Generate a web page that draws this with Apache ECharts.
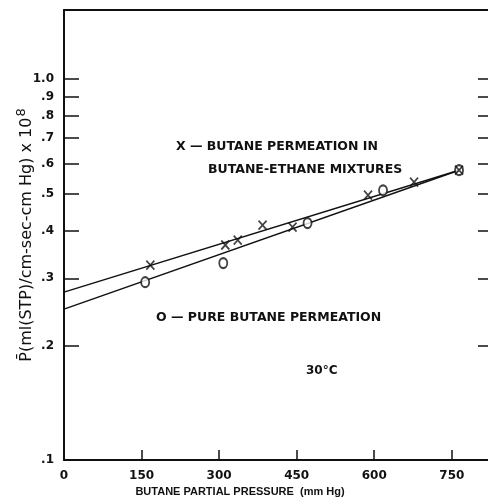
<!DOCTYPE html>
<html>
<head>
<meta charset="utf-8">
<script src="https://cdn.jsdelivr.net/npm/echarts@6/dist/echarts.min.js"></script>
<style>
  html, body { margin: 0; padding: 0; background: #fff; }
  #chart { width: 488px; height: 500px; }
</style>
</head>
<body>
<div id="chart"></div>
<script>
// butane partial pressure (mm Hg) and permeability (x 1e8)
var mixPressure = [167, 312, 336, 384, 442, 588, 677, 764];
var mixPerm = [0.325, 0.367, 0.378, 0.414, 0.409, 0.496, 0.537, 0.577];
var purePressure = [157, 308, 471, 617, 764];
var purePerm = [0.293, 0.329, 0.419, 0.511, 0.577];

// fitted lines (end points)
var fitPressure = [0, 764];
var mixFit = [0.276, 0.577];
var pureFit = [0.249, 0.577];

var xTicks = [0, 150, 300, 450, 600, 750];
var yTicks = [0.1, 0.2, 0.3, 0.4, 0.5, 0.6, 0.7, 0.8, 0.9, 1.0];
var yTickLabels = ['.1', '.2', '.3', '.4', '.5', '.6', '.7', '.8', '.9', '1.0'];

function pairs(xs, ys) {
    var list = [];
    for (var i = 0; i < xs.length; i++) {
        list.push([xs[i], ys[i]]);
    }
    return list;
}

var ink = '#111';
var font = 'DejaVu Sans';
var noteFont = 'bold 12.5px "DejaVu Sans"';

var chart = echarts.init(document.getElementById('chart'), null, { renderer: 'canvas' });

var option = {
    animation: false,
    backgroundColor: '#fff',
    grid: { left: 64, right: 0, top: 10, bottom: 40, outerBoundsMode: 'none', containLabel: false },
    xAxis: [{
        type: 'value',
        min: 0,
        max: 820,
        position: 'bottom',
        name: 'BUTANE PARTIAL PRESSURE  (mm Hg)',
        nameLocation: 'middle',
        nameGap: 26,
        nameMoveOverlap: false,
        nameTextStyle: { color: ink, fontFamily: 'Liberation Sans', fontWeight: 'bold', fontSize: 11, padding: [0, 72, 0, 0] },
        axisLine: { lineStyle: { color: ink, width: 2 } },
        axisTick: { inside: true, length: 10, lineStyle: { color: ink, width: 1.5 }, customValues: xTicks },
        axisLabel: { color: ink, fontFamily: font, fontWeight: 'bold', fontSize: 12, margin: 10, customValues: xTicks },
        splitLine: { show: false }
    }, {
        type: 'value',
        min: 0,
        max: 820,
        position: 'top',
        axisLine: { show: true, onZero: false, lineStyle: { color: ink, width: 2 } },
        axisTick: { show: false },
        axisLabel: { show: false },
        splitLine: { show: false }
    }],
    yAxis: [{
        type: 'log',
        logBase: 10,
        min: 0.1,
        max: 1.52,
        position: 'left',
        name: 'P\u0304(ml(STP)/cm-sec-cm Hg) x 10{sup|8}',
        nameLocation: 'middle',
        nameRotate: 90,
        nameGap: 26,
        nameMoveOverlap: false,
        nameTextStyle: {
            color: ink, fontFamily: 'DejaVu Sans', fontSize: 16,
            rich: { sup: { color: ink, fontFamily: 'DejaVu Sans', fontSize: 13, verticalAlign: 'bottom', padding: [0, 0, 10, 1] } }
        },
        axisLine: { lineStyle: { color: ink, width: 2 } },
        axisTick: { inside: true, length: 15, lineStyle: { color: ink, width: 1.5 }, customValues: yTicks },
        axisLabel: {
            color: ink, fontFamily: font, fontWeight: 'bold', fontSize: 12, margin: 10,
            customValues: yTicks,
            formatter: function (v) {
                var i = yTicks.findIndex(t => Math.abs(t - v) < 1e-6);
                return i >= 0 ? yTickLabels[i] : '';
            }
        },
        splitLine: { show: false }
    }, {
        type: 'log',
        logBase: 10,
        min: 0.1,
        max: 1.52,
        position: 'right',
        axisLine: { show: true, onZero: false, lineStyle: { color: 'rgba(0,0,0,0)', width: 1 } },
        axisTick: { show: true, inside: true, length: 10, lineStyle: { color: ink, width: 1.5 }, customValues: yTicks.slice(1) },
        axisLabel: { show: false, customValues: yTicks.slice(1) },
        splitLine: { show: false }
    }],
    graphic: [
        { type: 'text', left: 176, top: 140, style: { text: 'X \u2014 BUTANE PERMEATION IN', fill: ink, font: noteFont } },
        { type: 'text', left: 208, top: 163, style: { text: 'BUTANE-ETHANE MIXTURES', fill: ink, font: noteFont } },
        { type: 'text', left: 156, top: 311, style: { text: 'O \u2014 PURE BUTANE PERMEATION', fill: ink, font: noteFont } },
        { type: 'text', left: 306, top: 365, style: { text: '30\u00b0C', fill: ink, font: 'bold 12px "DejaVu Sans"' } }
    ],
    series: [{
        name: 'mix fit',
        type: 'line',
        data: pairs(fitPressure, mixFit),
        symbol: 'none',
        lineStyle: { color: ink, width: 1.5 },
        z: 1
    }, {
        name: 'pure fit',
        type: 'line',
        yAxisIndex: 1,
        data: pairs(fitPressure, pureFit),
        symbol: 'none',
        lineStyle: { color: ink, width: 1.5 },
        z: 1
    }, {
        name: 'butane in butane-ethane',
        type: 'scatter',
        data: pairs(mixPressure, mixPerm),
        symbol: 'path://M0,0L10,10M10,0L0,10',
        symbolSize: [8, 9],
        itemStyle: { color: 'none', borderColor: ink, borderWidth: 1.8 },
        z: 3
    }, {
        name: 'pure butane',
        type: 'scatter',
        data: pairs(purePressure, purePerm),
        symbol: 'emptyCircle',
        symbolSize: [8, 10],
        itemStyle: { color: ink, borderColor: ink, borderWidth: 1.8 },
        z: 2
    }]
};

chart.setOption(option);
</script>
</body>
</html>
